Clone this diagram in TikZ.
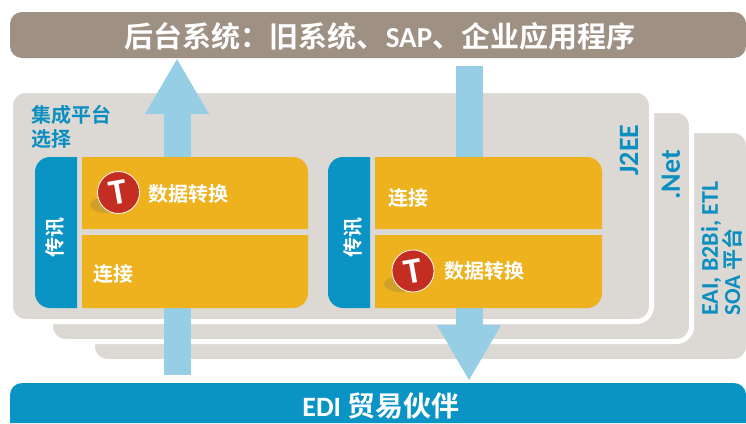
\documentclass[tikz,border=0pt]{standalone}
\usepackage{fontspec}
\usepackage{tikz}
\usetikzlibrary{arrows.meta}
\setmainfont{Noto Sans CJK SC}[BoldFont={* Bold}]
\newfontfamily\latinfont{Carlito}[BoldFont={* Bold}]

\definecolor{barbrown}{HTML}{9E9184}
\definecolor{barblue}{HTML}{0A93C5}
\definecolor{panelgray}{HTML}{DCD9D5}
\definecolor{boxyellow}{HTML}{EDB21E}
\definecolor{flowblue}{HTML}{96CEE5}
\definecolor{labelblue}{HTML}{0A8FC0}
\definecolor{badgered}{HTML}{C42E22}
\definecolor{badgeshade}{HTML}{CFA02A}

\tikzset{
  panel/.style={fill=panelgray, draw=white, line width=5pt, rounded corners=15pt},
  yellowbox/.style={fill=boxyellow},
  bluebox/.style={fill=barblue},
  flow/.style={draw=flowblue, line width=27pt, -{Triangle[length=56pt,width=60pt]}},
  boxtext/.style={text=white, font=\bfseries\fontsize{20}{20}\selectfont, inner sep=0pt},
  bartext/.style={text=white, font=\bfseries\fontsize{29}{29}\selectfont, inner sep=0pt},
  sidetext/.style={text=labelblue, inner sep=0pt, rotate=90},
  badge/.style={circle, fill=badgered, draw=white, line width=0.8pt, minimum size=42pt, inner sep=0pt,
    rotate=10, text=white, font=\latinfont\bfseries\fontsize{36}{36}\selectfont},
}

\begin{document}
\begin{tikzpicture}[x=1pt,y=-1pt]
  \useasboundingbox (0,0) rectangle (746,423);

  % Draw the stacked platform panels
  \draw[panel] (92.5,130.5) rectangle (748.5,361.5);
  \draw[panel] (50.5,110.5) rectangle (691.5,341.5);
  \draw[panel] (10.5,90.5) rectangle (651.5,321.5);

  % Draw the two bars
  \node[fill=barbrown, rounded corners=12pt, minimum width=736pt, minimum height=46pt, inner sep=0pt] (backend) at (378,35) {};
  \fill[barblue] (10,423) [rounded corners=12pt] -- (10,383) -- (746,383) [sharp corners] -- (746,423) -- cycle;
  \node[bartext] (backendtext) at (380,36) {后台系统：旧系统、{\latinfont SAP}、企业应用程序};
  \node[bartext, font=\bfseries\fontsize{28}{28}\selectfont] (partners) at (381,406) {{\latinfont EDI} 贸易伙伴};

  % Define the flow ends
  \coordinate (upstart) at (177,375);
  \coordinate (downstart) at (469,66);
  \coordinate (downend) at (469,381);

  % Draw the flows, the boxes come on top of them
  \draw[flow] (upstart) -- (upstart |- backend.south);
  \draw[flow] (downstart) -- (downend);

  % Draw the gaps between the boxes
  \fill[panelgray] (82,225) rectangle (308,240);
  \fill[panelgray] (375,225) rectangle (602,240);

  % Define boxes of the left column
  \fill[bluebox] (77,157) -- (50,157) [rounded corners=15pt] -- (35,157) -- (35,308) [sharp corners] -- (77,308) -- cycle;
  \fill[yellowbox] (82,157) [rounded corners=15pt] -- (308,157) [sharp corners] -- (308,229) -- (82,229) -- cycle;
  \fill[yellowbox] (82,235) -- (308,235) [rounded corners=15pt] -- (308,308) [sharp corners] -- (82,308) -- cycle;

  % Define boxes of the right column
  \fill[bluebox] (370,157) -- (343,157) [rounded corners=15pt] -- (328,157) -- (328,308) [sharp corners] -- (370,308) -- cycle;
  \fill[yellowbox] (375,157) [rounded corners=15pt] -- (602,157) [sharp corners] -- (602,229) -- (375,229) -- cycle;
  \fill[yellowbox] (375,235) -- (602,235) [rounded corners=15pt] -- (602,308) [sharp corners] -- (375,308) -- cycle;

  % Draw the badges
  \fill[badgeshade] (106,205) ellipse (16pt and 8pt);
  \fill[badgeshade] (400,284) ellipse (16pt and 8pt);
  \node[badge] (badgea) at (118.5,192.5) {T};
  \node[badge] (badgeb) at (413,271) {T};

  % Define the box labels
  \node[boxtext, rotate=90] (msga) at (55,237) {传讯};
  \node[boxtext, rotate=90] (msgb) at (353,237) {传讯};
  \node[boxtext] (transa) at (188.5,194) {数据转换};
  \node[boxtext] (transb) at (484,271) {数据转换};
  \node[boxtext] (linka) at (113,274) {连接};
  \node[boxtext] (linkb) at (408,198) {连接};

  % Define the panel labels
  \node[text=labelblue, font=\bfseries\fontsize{20}{24}\selectfont, inner sep=0pt, align=left, anchor=north west] (choice) at (31,105) {集成平台\\选择};
  \node[sidetext, font=\latinfont\bfseries\fontsize{28}{28}\selectfont] (jee) at (629,150) {J2EE};
  \node[sidetext, font=\latinfont\bfseries\fontsize{28}{28}\selectfont] (net) at (671,175) {.Net};
  \node[sidetext, font=\latinfont\bfseries\fontsize{24}{24}\selectfont, anchor=west] (eai) at (711,316) {EAI, B2Bi, ETL};
  \node[sidetext, font=\bfseries\fontsize{21}{21}\selectfont, anchor=west] (soa) at (732,316) {{\latinfont\fontsize{23}{23}\selectfont SOA} 平台};
\end{tikzpicture}
\end{document}
